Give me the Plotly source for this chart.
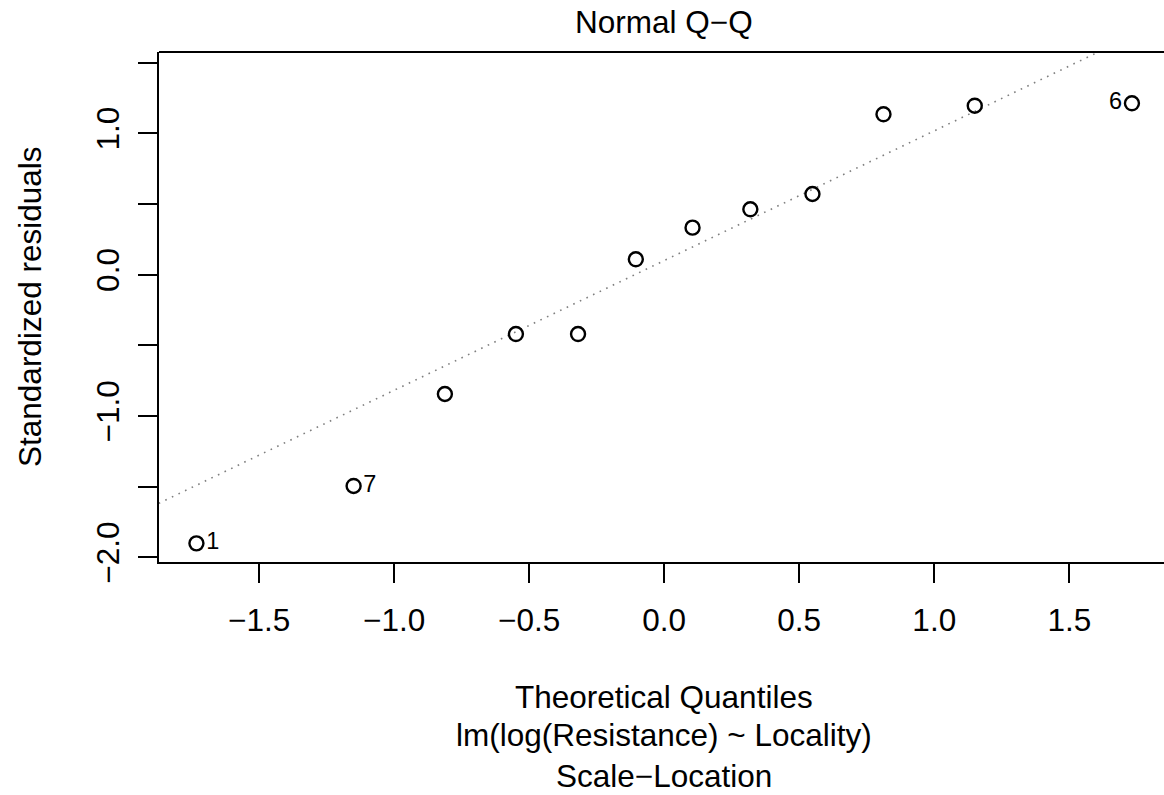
import plotly.graph_objects as go

# ---- data ----
theoretical_quantiles = [-1.732, -1.150, -0.812, -0.549, -0.319, -0.105,
                         0.105, 0.319, 0.549, 0.812, 1.150, 1.732]
std_residuals = [-1.901, -1.495, -0.844, -0.420, -0.420, 0.109,
                 0.333, 0.463, 0.571, 1.135, 1.196, 1.213]
point_labels = ["1", "7", "", "", "", "", "", "", "", "", "", "6"]
label_sides = ["middle right", "middle right"] + ["middle right"] * 9 + ["middle left"]

qq_intercept = 0.100
qq_slope = 0.918

x_tickvals = [-1.5, -1.0, -0.5, 0.0, 0.5, 1.0, 1.5]
x_ticktext = ["\u22121.5", "\u22121.0", "\u22120.5", "0.0", "0.5", "1.0", "1.5"]
y_tickvals = [-2.0, -1.5, -1.0, -0.5, 0.0, 0.5, 1.0, 1.5]
y_ticktext = ["\u22122.0", "", "\u22121.0", "", "0.0", "", "1.0", ""]

title_text = "Normal Q\u2212Q"
x_title = "Theoretical Quantiles"
sub_caption = "lm(log(Resistance) ~ Locality)"
sub_caption2 = "Scale\u2212Location"
y_title = "Standardized residuals"

FONT = "Liberation Sans, Arial, Helvetica, sans-serif"
BIG = 31.5
SMALL = 23.5

x_range = [-1.8706, 1.8507]
y_range = [-2.033, 1.576]

fig = go.Figure()

# Q-Q reference line (dotted gray)
line_x = [x_range[0] - 1, x_range[1] + 1]
line_y = [qq_intercept + qq_slope * v for v in line_x]
fig.add_trace(go.Scatter(
    x=line_x, y=line_y, mode="lines",
    line=dict(color="#7f7f7f", width=1.6, dash="1.6px,5.7px"),
    hoverinfo="skip"))

# points with labels
fig.add_trace(go.Scatter(
    x=theoretical_quantiles, y=std_residuals, mode="markers+text",
    marker=dict(symbol="circle-open", size=14, color="black",
                line=dict(color="black", width=2.4)),
    text=point_labels, textposition=label_sides,
    textfont=dict(family=FONT, size=SMALL, color="black"),
    cliponaxis=False))

axis_common = dict(
    showgrid=False, zeroline=False, showline=True, linecolor="black",
    linewidth=2, ticks="outside", ticklen=19, tickwidth=2, tickcolor="black",
    tickfont=dict(family=FONT, size=BIG, color="black"), mirror=False)

fig.update_xaxes(range=x_range, tickmode="array", tickvals=x_tickvals,
                 ticktext=x_ticktext, ticklabelstandoff=10, **axis_common)
fig.update_yaxes(range=y_range, tickmode="array", tickvals=y_tickvals,
                 ticktext=y_ticktext, tickangle=-90, ticklabelstandoff=6,
                 **axis_common)

def ann(text, x, y, angle=0):
    return dict(text=text, x=x, y=y, xref="paper", yref="paper",
                showarrow=False, textangle=angle, xanchor="center",
                yanchor="middle", font=dict(family=FONT, size=BIG, color="black"))

fig.update_layout(
    width=1164, height=795,
    margin=dict(l=159, r=0, t=52, b=233, pad=0),
    plot_bgcolor="white", paper_bgcolor="white",
    showlegend=False,
    shapes=[dict(type="line", xref="paper", yref="paper", x0=0, x1=1, y0=1, y1=1,
                 line=dict(color="black", width=2))],
    annotations=[
        ann(title_text, 0.5025, 1.0588),
        ann(x_title, 0.5025, -0.2647),
        ann(sub_caption, 0.5025, -0.3392),
        ann(sub_caption2, 0.5025, -0.4196),
        ann(y_title, -0.1284, 0.5, -90),
    ])

fig.write_html("out.html")
